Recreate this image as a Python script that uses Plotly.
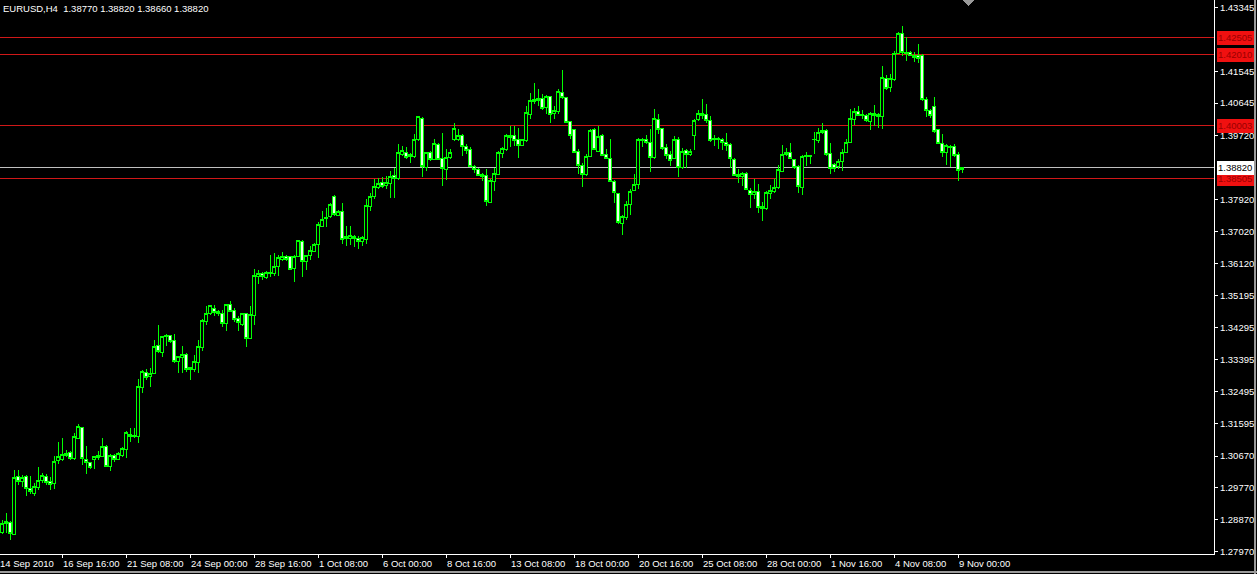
import datetime as dt
import plotly.graph_objects as go

# ---------------- data (EURUSD H4, bars from 14 Sep 2010 04:00) ----------------
opens = [
    1.28519, 1.28755, 1.28783, 1.28453, 1.30078, 1.29936, 1.30078, 1.29747, 1.29624, 1.29766,
    1.29965, 1.30097, 1.29936, 1.29889, 1.30532, 1.30579, 1.30683, 1.30758, 1.30598, 1.31165,
    1.31477, 1.30569, 1.30475, 1.30569, 1.30626, 1.30664, 1.30947, 1.30362, 1.30692, 1.30569,
    1.30692, 1.30853, 1.31278, 1.31231, 1.31231, 1.32611, 1.33027, 1.32913, 1.33008, 1.33783,
    1.33594, 1.34047, 1.34075, 1.33924, 1.33338, 1.33461, 1.33527, 1.33168, 1.33102, 1.33310,
    1.33745, 1.34472, 1.34709, 1.34850, 1.34756, 1.34690, 1.34425, 1.34945, 1.34784, 1.34567,
    1.34378, 1.34690, 1.34000, 1.34633, 1.35748, 1.35843, 1.35729, 1.35843, 1.35843, 1.36013,
    1.36221, 1.36296, 1.36296, 1.35975, 1.36315, 1.36740, 1.36173, 1.36334, 1.36457, 1.36646,
    1.37166, 1.37373, 1.37449, 1.38016, 1.37467, 1.37590, 1.36882, 1.36806, 1.36882, 1.36815,
    1.36740, 1.36787, 1.37732, 1.37997, 1.38252, 1.38412, 1.38318, 1.38375, 1.38601, 1.38507,
    1.39197, 1.39263, 1.39150, 1.39150, 1.39603, 1.40208, 1.38819, 1.39244, 1.39055, 1.39480,
    1.39074, 1.38772, 1.39102, 1.39622, 1.39622, 1.39735, 1.39414, 1.39339, 1.38847, 1.38772,
    1.38583, 1.38601, 1.37845, 1.38441, 1.38630, 1.39225, 1.39339, 1.39716, 1.39735, 1.39622,
    1.39452, 1.39575, 1.40331, 1.40680, 1.40709, 1.40775, 1.40520, 1.40832, 1.40359, 1.40397,
    1.40945, 1.40803, 1.40113, 1.39906, 1.39291, 1.38885, 1.38630, 1.39150, 1.39887, 1.39291,
    1.39735, 1.39197, 1.39074, 1.38441, 1.38091, 1.37241, 1.37401, 1.37779, 1.38186, 1.38346,
    1.39575, 1.39622, 1.39528, 1.39102, 1.40189, 1.39924, 1.39386, 1.39197, 1.39074, 1.39622,
    1.38819, 1.39310, 1.39197, 1.39717, 1.40170, 1.40359, 1.40331, 1.40142, 1.39603, 1.39641,
    1.39622, 1.39546, 1.39480, 1.39055, 1.38630, 1.38564, 1.38658, 1.38186, 1.38063, 1.38157,
    1.37713, 1.37656, 1.38091, 1.38157, 1.38252, 1.38724, 1.39197, 1.39263, 1.39055, 1.38866,
    1.38252, 1.39131, 1.39150, 1.39603, 1.39575, 1.39811, 1.39858, 1.39225, 1.38913, 1.38866,
    1.39008, 1.39244, 1.39528, 1.40189, 1.40397, 1.40302, 1.40302, 1.40113, 1.40284, 1.40331,
    1.40265, 1.41342, 1.41087, 1.41304, 1.42060, 1.42627, 1.42079, 1.42079, 1.41985, 1.41985,
    1.41985, 1.40756, 1.40425, 1.40548, 1.39887, 1.39509, 1.39263, 1.39433, 1.39433, 1.39197,
    1.38770,
]
highs = [
    1.28850, 1.29058, 1.28821, 1.30286, 1.30267, 1.30125, 1.30125, 1.30097, 1.29908, 1.30362,
    1.30191, 1.30173, 1.30078, 1.30664, 1.31070, 1.31165, 1.30853, 1.30815, 1.31307, 1.31571,
    1.31496, 1.30947, 1.30503, 1.30645, 1.30815, 1.31165, 1.30976, 1.30721, 1.30740, 1.30787,
    1.30929, 1.31382, 1.31449, 1.31449, 1.32837, 1.33102, 1.33121, 1.33149, 1.33953, 1.34378,
    1.34066, 1.34123, 1.34094, 1.34123, 1.33480, 1.33783, 1.33594, 1.33197, 1.33527, 1.33953,
    1.34539, 1.34898, 1.34945, 1.34945, 1.34803, 1.34784, 1.34973, 1.35039, 1.34850, 1.34614,
    1.34690, 1.34709, 1.34916, 1.35956, 1.35937, 1.35861, 1.35890, 1.36362, 1.36410, 1.36362,
    1.36438, 1.36362, 1.36334, 1.36362, 1.36788, 1.36788, 1.36362, 1.36599, 1.36693, 1.37279,
    1.37591, 1.37685, 1.37808, 1.38035, 1.37638, 1.37827, 1.37165, 1.37165, 1.36929, 1.36882,
    1.36882, 1.37921, 1.38110, 1.38488, 1.38535, 1.38564, 1.38583, 1.38724, 1.38819, 1.39480,
    1.39433, 1.39414, 1.39244, 1.39764, 1.40284, 1.40265, 1.39263, 1.39291, 1.39622, 1.39528,
    1.39811, 1.39339, 1.39339, 1.40095, 1.39905, 1.39764, 1.39480, 1.39414, 1.38885, 1.38819,
    1.38677, 1.38772, 1.38488, 1.38819, 1.39291, 1.39414, 1.39764, 1.39990, 1.39990, 1.39953,
    1.39641, 1.40567, 1.40945, 1.41210, 1.41058, 1.40898, 1.40869, 1.40851, 1.40567, 1.41040,
    1.41578, 1.40832, 1.40142, 1.39924, 1.39339, 1.38960, 1.39197, 1.39906, 1.39953, 1.39990,
    1.39764, 1.39339, 1.39622, 1.38469, 1.38110, 1.37496, 1.37874, 1.38205, 1.38630, 1.39669,
    1.39669, 1.39735, 1.39905, 1.40491, 1.40331, 1.39953, 1.39480, 1.39291, 1.39717, 1.39698,
    1.39386, 1.39358, 1.39339, 1.40208, 1.40454, 1.40775, 1.40614, 1.40284, 1.39735, 1.39698,
    1.39669, 1.39811, 1.39509, 1.39102, 1.38790, 1.38696, 1.38696, 1.38252, 1.38507, 1.38346,
    1.37845, 1.38157, 1.38318, 1.38507, 1.38885, 1.39452, 1.39386, 1.39509, 1.39074, 1.38885,
    1.39169, 1.39263, 1.39169, 1.39830, 1.39953, 1.40095, 1.39905, 1.39509, 1.38960, 1.39074,
    1.39339, 1.39622, 1.40491, 1.40520, 1.40567, 1.40454, 1.40331, 1.40397, 1.40586, 1.40378,
    1.41701, 1.41436, 1.41465, 1.42126, 1.42646, 1.42835, 1.42504, 1.42126, 1.42079, 1.42315,
    1.42032, 1.40832, 1.40491, 1.40832, 1.39924, 1.39764, 1.39480, 1.39452, 1.39480, 1.39263,
    1.38820,
]
lows = [
    1.28472, 1.28491, 1.28301, 1.28425, 1.29842, 1.29795, 1.29530, 1.29587, 1.29530, 1.29719,
    1.29908, 1.29842, 1.29719, 1.29738, 1.30456, 1.30532, 1.30645, 1.30550, 1.30569, 1.31137,
    1.30409, 1.30173, 1.30314, 1.30314, 1.30550, 1.30645, 1.30362, 1.30248, 1.30503, 1.30550,
    1.30645, 1.30626, 1.31070, 1.31165, 1.31042, 1.32441, 1.32819, 1.32630, 1.32989, 1.33594,
    1.33480, 1.33783, 1.33858, 1.33291, 1.33027, 1.33008, 1.33055, 1.32819, 1.33055, 1.33027,
    1.33650, 1.34378, 1.34661, 1.34633, 1.34633, 1.34312, 1.34217, 1.34728, 1.34472, 1.34217,
    1.34349, 1.33764, 1.33972, 1.34378, 1.35540, 1.35654, 1.35672, 1.35729, 1.35767, 1.35748,
    1.36173, 1.36173, 1.35918, 1.35578, 1.36296, 1.35729, 1.35937, 1.36221, 1.36438, 1.36268,
    1.37147, 1.37147, 1.37402, 1.37468, 1.37449, 1.36650, 1.36600, 1.36630, 1.36580, 1.36520,
    1.36600, 1.36650, 1.37590, 1.37921, 1.38223, 1.38252, 1.38223, 1.37968, 1.37968, 1.38469,
    1.39150, 1.39055, 1.38961, 1.39102, 1.39575, 1.38564, 1.38724, 1.39008, 1.39036, 1.39036,
    1.38299, 1.38469, 1.39055, 1.39575, 1.39575, 1.39150, 1.39197, 1.38847, 1.38677, 1.38583,
    1.38441, 1.37751, 1.37808, 1.38157, 1.38601, 1.39102, 1.39291, 1.39414, 1.39433, 1.39102,
    1.39433, 1.39546, 1.40189, 1.40614, 1.40567, 1.40454, 1.40331, 1.40076, 1.40189, 1.40331,
    1.40775, 1.40076, 1.39622, 1.39244, 1.38630, 1.38280, 1.38583, 1.39131, 1.39320, 1.39263,
    1.39150, 1.39055, 1.38412, 1.37827, 1.37241, 1.36929, 1.37354, 1.37496, 1.38157, 1.38223,
    1.39414, 1.39480, 1.38696, 1.39055, 1.39764, 1.39320, 1.39074, 1.38866, 1.39055, 1.38564,
    1.38790, 1.38819, 1.39150, 1.39320, 1.40150, 1.40208, 1.40095, 1.39555, 1.39433, 1.39339,
    1.39320, 1.39291, 1.38819, 1.38583, 1.38375, 1.38299, 1.38186, 1.37685, 1.37921, 1.37543,
    1.37307, 1.37619, 1.37921, 1.38110, 1.38224, 1.38696, 1.39150, 1.39055, 1.38790, 1.38110,
    1.38034, 1.38866, 1.38913, 1.39197, 1.39528, 1.39764, 1.39150, 1.38630, 1.38696, 1.38790,
    1.38724, 1.39225, 1.39509, 1.40019, 1.40284, 1.40189, 1.40113, 1.39887, 1.39999, 1.39953,
    1.39924, 1.41021, 1.40964, 1.41276, 1.42032, 1.41985, 1.41843, 1.41966, 1.41814, 1.41777,
    1.40709, 1.40265, 1.40236, 1.39811, 1.39480, 1.39131, 1.38885, 1.38847, 1.39131, 1.38441,
    1.38660,
]
closes = [
    1.28755, 1.28821, 1.28472, 1.30059, 1.29936, 1.30059, 1.29747, 1.29653, 1.29813, 1.29984,
    1.30107, 1.29908, 1.29870, 1.30522, 1.30645, 1.30721, 1.30740, 1.30588, 1.31212, 1.31496,
    1.30598, 1.30475, 1.30343, 1.30645, 1.30692, 1.30947, 1.30381, 1.30692, 1.30569, 1.30740,
    1.30881, 1.31326, 1.31212, 1.31259, 1.32630, 1.33055, 1.32894, 1.33008, 1.33764, 1.33622,
    1.34047, 1.34075, 1.33905, 1.33338, 1.33480, 1.33527, 1.33102, 1.33102, 1.33338, 1.33764,
    1.34501, 1.34690, 1.34916, 1.34728, 1.34690, 1.34425, 1.34945, 1.34756, 1.34520, 1.34453,
    1.34690, 1.34000, 1.34661, 1.35767, 1.35824, 1.35748, 1.35861, 1.35871, 1.36013, 1.36268,
    1.36296, 1.36221, 1.35956, 1.36315, 1.36769, 1.36173, 1.36334, 1.36476, 1.36646, 1.37213,
    1.37355, 1.37402, 1.37780, 1.37496, 1.37590, 1.36787, 1.36806, 1.36900, 1.36815, 1.36740,
    1.36834, 1.37751, 1.37997, 1.38280, 1.38375, 1.38299, 1.38393, 1.38583, 1.38507, 1.39244,
    1.39320, 1.39102, 1.39197, 1.39622, 1.40265, 1.38847, 1.39244, 1.39055, 1.39509, 1.39055,
    1.38790, 1.39102, 1.39263, 1.39924, 1.39735, 1.39433, 1.39320, 1.38866, 1.38772, 1.38601,
    1.38620, 1.37874, 1.38469, 1.38658, 1.39244, 1.39357, 1.39735, 1.39669, 1.39575, 1.39452,
    1.39622, 1.40378, 1.40709, 1.40756, 1.40775, 1.40491, 1.40832, 1.40331, 1.40425, 1.40964,
    1.40803, 1.40095, 1.39717, 1.39263, 1.38885, 1.38630, 1.39150, 1.39858, 1.39339, 1.39698,
    1.39168, 1.39074, 1.38441, 1.38110, 1.37259, 1.37430, 1.37779, 1.38157, 1.38346, 1.39622,
    1.39622, 1.39546, 1.39102, 1.40208, 1.39887, 1.39357, 1.39168, 1.39036, 1.39622, 1.38819,
    1.39291, 1.39197, 1.39291, 1.40161, 1.40359, 1.40302, 1.40142, 1.39575, 1.39641, 1.39603,
    1.39546, 1.39452, 1.39074, 1.38602, 1.38564, 1.38658, 1.38205, 1.38063, 1.38157, 1.37685,
    1.37656, 1.38110, 1.38186, 1.38252, 1.38772, 1.39197, 1.39263, 1.39074, 1.38819, 1.38280,
    1.39131, 1.39169, 1.39160, 1.39622, 1.39811, 1.39858, 1.39197, 1.38790, 1.38790, 1.39008,
    1.39263, 1.39546, 1.40208, 1.40397, 1.40302, 1.40331, 1.40142, 1.40359, 1.40350, 1.40265,
    1.41370, 1.41058, 1.41342, 1.42060, 1.42627, 1.42079, 1.42060, 1.42003, 1.41937, 1.41909,
    1.40756, 1.40425, 1.40302, 1.39830, 1.39509, 1.39263, 1.39452, 1.39386, 1.39169, 1.38753,
    1.38820,
]

symbol_title = "EURUSD,H4\u00a0 1.38770 1.38820 1.38660 1.38820"
bid_price = 1.38820
red_levels = [1.42505, 1.42010, 1.40003, 1.38505]
red_level_labels = ["1.42505", "1.42010", "1.40003", "1.38505"]

price_ticks = [1.43345, 1.41545, 1.40645, 1.39720, 1.37920, 1.37020, 1.36120, 1.35195,
               1.34295, 1.33395, 1.32495, 1.31595, 1.30670, 1.29770, 1.28870, 1.27970]
price_tick_text = ["1.43345", "1.41545", "1.40645", "1.39720", "1.37920", "1.37020", "1.36120",
                   "1.35195", "1.34295", "1.33395", "1.32495", "1.31595", "1.30670", "1.29770",
                   "1.28870", "1.27970"]

time_tick_labels = ["14 Sep 2010", "16 Sep 16:00", "21 Sep 08:00", "24 Sep 00:00", "28 Sep 16:00",
                    "1 Oct 08:00", "6 Oct 00:00", "8 Oct 16:00", "13 Oct 08:00", "18 Oct 00:00",
                    "20 Oct 16:00", "25 Oct 08:00", "28 Oct 00:00", "1 Nov 16:00", "4 Nov 08:00",
                    "9 Nov 00:00"]

# ---------------- H4 trading calendar (weekdays, 6 bars per day) ----------------
cal_start = dt.datetime(2010, 9, 14, 0, 0)
calendar = []
t = cal_start
while len(calendar) < 400:
    if t.weekday() < 5:
        calendar.append(t)
    t += dt.timedelta(hours=4)

def fmt_bar(d):
    if d == cal_start:
        return f"{d.day} {d.strftime('%b')} {d.year}"
    return f"{d.day} {d.strftime('%b')} {d.strftime('%H:%M')}"

label_to_index = {fmt_bar(d): k for k, d in enumerate(calendar)}
tick_index = [label_to_index[s] for s in time_tick_labels]

bar_index = list(range(1, len(opens) + 1))
bar_time = [calendar[k].strftime("%Y.%m.%d %H:%M") for k in bar_index]

X_RANGE = [0.5, 304.0]
FONT = "Liberation Sans, Arial, sans-serif"
FS = 9.5

fig = go.Figure()
fig.add_trace(go.Candlestick(
    x=bar_index, open=opens, high=highs, low=lows, close=closes,
    text=bar_time, hoverinfo="text+y",
    increasing=dict(line=dict(color="#00ff00", width=1), fillcolor="#000000"),
    decreasing=dict(line=dict(color="#00ff00", width=1), fillcolor="#e8ffe8"),
    whiskerwidth=0, showlegend=False,
))

shapes = []
for lv in red_levels:
    shapes.append(dict(type="line", xref="paper", x0=0, x1=1, yref="y", y0=lv, y1=lv,
                       line=dict(color="#d01818", width=1), layer="below"))
shapes.append(dict(type="line", xref="paper", x0=0, x1=1, yref="y", y0=bid_price, y1=bid_price,
                   line=dict(color="#c0c0c0", width=1), layer="below"))
# chart-shift marker
shapes.append(dict(type="path", xref="x", yref="paper",
                   path="M 241.4 1 L 243.9 1 L 242.65 0.99 Z",
                   fillcolor="#9a9a9a", line=dict(color="#9a9a9a", width=1)))
# window border
shapes.append(dict(type="line", xref="paper", yref="paper", x0=-0.01, x1=1.04, y0=-0.0325, y1=-0.0325,
                   line=dict(color="#9a9a9a", width=2)))
shapes.append(dict(type="line", xref="paper", yref="paper", x0=1.0335, x1=1.0335, y0=-0.04, y1=1.01,
                   line=dict(color="#9a9a9a", width=2)))

annotations = [dict(text=symbol_title, xref="paper", yref="paper", x=0, y=1, xanchor="left",
                    yanchor="top", xshift=1, yshift=-1, showarrow=False,
                    font=dict(family=FONT, size=FS, color="#ffffff"))]
for k, lab in zip(tick_index, time_tick_labels):
    if k < X_RANGE[0]:
        annotations.append(dict(text=lab, xref="paper", yref="paper", x=0, y=0, xanchor="left",
                                yanchor="top", xshift=-2, yshift=-2, showarrow=False,
                                font=dict(family=FONT, size=FS, color="#ffffff")))
        continue
    xp = (k - X_RANGE[0]) / (X_RANGE[1] - X_RANGE[0])
    annotations.append(dict(text=lab, xref="paper", yref="paper", x=xp, y=0, xanchor="left",
                            yanchor="top", xshift=-1, yshift=-2, showarrow=False,
                            font=dict(family=FONT, size=FS, color="#ffffff")))
for lv, lab in zip(red_levels, red_level_labels):
    annotations.append(dict(text=lab, xref="paper", yref="y", x=1, y=lv, xanchor="left",
                            yanchor="middle", xshift=2, showarrow=False, bgcolor="#f01010",
                            borderpad=1, font=dict(family=FONT, size=FS, color="#9a0000")))
annotations.append(dict(text="1.38820", xref="paper", yref="y", x=1, y=bid_price, xanchor="left",
                        yanchor="middle", xshift=2, showarrow=False, bgcolor="#ffffff",
                        borderpad=1, font=dict(family=FONT, size=FS, color="#000000")))

fig.update_layout(
    width=1257, height=574,
    margin=dict(l=0, r=43, t=0, b=20, pad=0, autoexpand=False),
    paper_bgcolor="#000000", plot_bgcolor="#000000",
    showlegend=False, hovermode="closest", boxgap=0.25,
    shapes=shapes, annotations=annotations,
    xaxis=dict(range=X_RANGE, rangeslider=dict(visible=False), showgrid=False, zeroline=False,
               showline=True, linecolor="#ffffff", linewidth=1,
               tickmode="array", tickvals=tick_index, ticktext=[""] * len(tick_index),
               ticks="outside", ticklen=3, tickcolor="#ffffff", tickwidth=1,
               fixedrange=True, automargin=False),
    yaxis=dict(range=[1.2790, 1.4356], side="right", showgrid=False, zeroline=False,
               showline=True, linecolor="#ffffff", linewidth=1,
               tickmode="array", tickvals=price_ticks, ticktext=price_tick_text,
               ticks="outside", ticklen=3, tickcolor="#ffffff", tickwidth=1,
               tickfont=dict(family=FONT, size=FS, color="#ffffff"),
               fixedrange=True, automargin=False),
)

fig.write_html(
    "out.html",
    config={"displayModeBar": False},
    post_script="document.body.style.margin='0';document.body.style.padding='0';"
                "document.body.style.background='#000';"
                "document.querySelectorAll('svg.main-svg').forEach(function(s){"
                "s.style.shapeRendering='crispEdges';});",
)
